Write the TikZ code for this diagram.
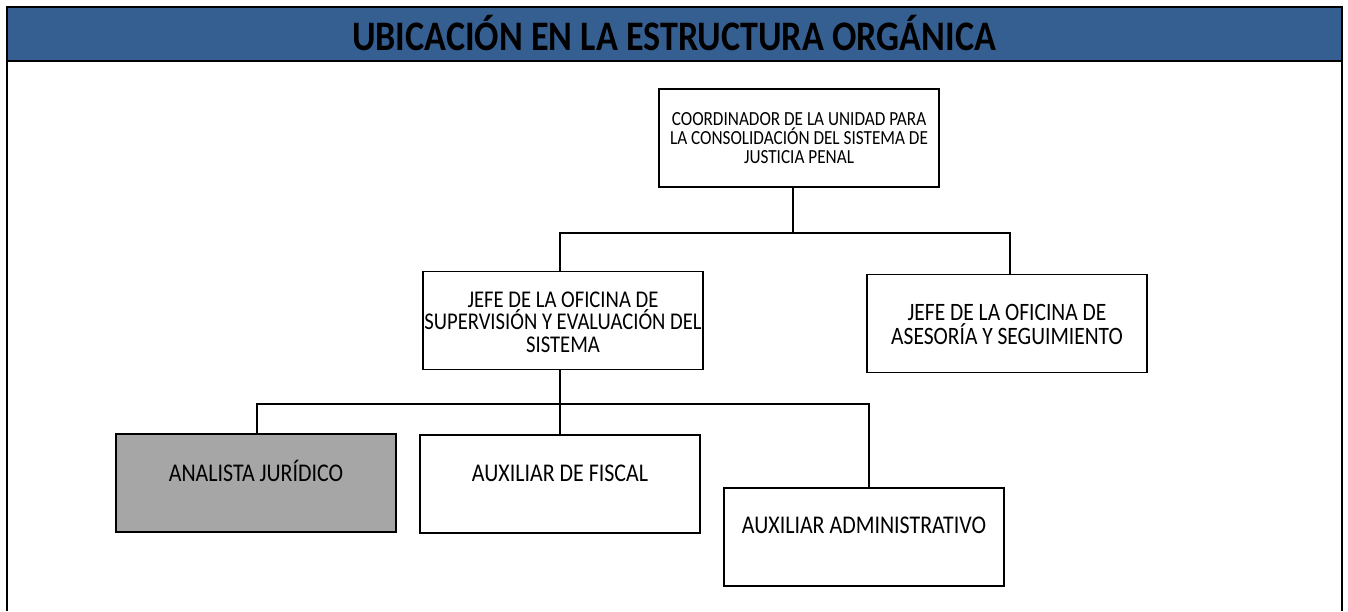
\documentclass[tikz,border=0pt]{standalone}
\usepackage{fontspec}
\setmainfont{Carlito}[FakeStretch=0.86]
\definecolor{headblue}{HTML}{365F91}
\definecolor{boxgray}{HTML}{A6A6A6}

\begin{document}
\begin{tikzpicture}[x=1pt,y=-1pt,
        puesto/.style={draw, line width=1.6pt, minimum width=280pt, minimum height=98pt, inner sep=0pt},
        rotulo/.style={align=center, inner sep=0pt, font=\fontsize{25.5}{28}\selectfont},
        linea/.style={line width=1.4pt}]
        \useasboundingbox (0,0) rectangle (1348,611);

        % marco y encabezado
        \fill[headblue] (7,7) rectangle (1342,61);
        \draw[line width=2.6pt] (7,611) -- (7,7) -- (1342,7) -- (1342,611);
        \draw[line width=2.6pt] (7,61) -- (1342,61);
        \node[font=\fontsize{42}{44}\selectfont\bfseries, inner sep=0pt] (titulo) at (674,33) {UBICACIÓN EN LA ESTRUCTURA ORGÁNICA};

        % puestos
        \node[puesto] (coord) at (799,138) {};
        \node[rotulo, font=\fontsize{20}{19}\selectfont] (coord-t) at (799,138) {COORDINADOR DE LA UNIDAD PARA\\LA CONSOLIDACIÓN DEL SISTEMA DE\\JUSTICIA PENAL};

        \node[puesto] (superv) at (563,320.5) {};
        \node[rotulo, font=\fontsize{24}{22.5}\selectfont] (superv-t) at (563,322) {JEFE DE LA OFICINA DE\\SUPERVISIÓN Y EVALUACIÓN DEL\\SISTEMA};

        \node[puesto] (asesor) at (1007,323.5) {};
        \node[rotulo, font=\fontsize{25}{24}\selectfont] (asesor-t) at (1007,324) {JEFE DE LA OFICINA DE\\ASESORÍA Y SEGUIMIENTO};

        \node[puesto, fill=boxgray] (analista) at (256,483) {};
        \node[rotulo] (analista-t) at (256,471) {ANALISTA JURÍDICO};

        \node[puesto] (fiscal) at (560,484) {};
        \node[rotulo] (fiscal-t) at (560,473) {AUXILIAR DE FISCAL};

        \node[puesto] (admin) at (864,537) {};
        \node[rotulo] (admin-t) at (864,525) {AUXILIAR ADMINISTRATIVO};

        % lineas de dependencia
        \coordinate (n1) at (793,233);
        \coordinate (n2) at (560,404);
        \draw[linea] (coord.south -| n1) -- (n1);
        \draw[linea] (superv.north -| 560,0) |- (n1) -| (asesor.north -| 1010,0);
        \draw[linea] (superv.south -| n2) -- (n2);
        \draw[linea] (analista.north -| 257,0) |- (n2) -| (admin.north -| 869,0);
        \draw[linea] (n2) -- (fiscal.north);

    \end{tikzpicture}
\end{document}
